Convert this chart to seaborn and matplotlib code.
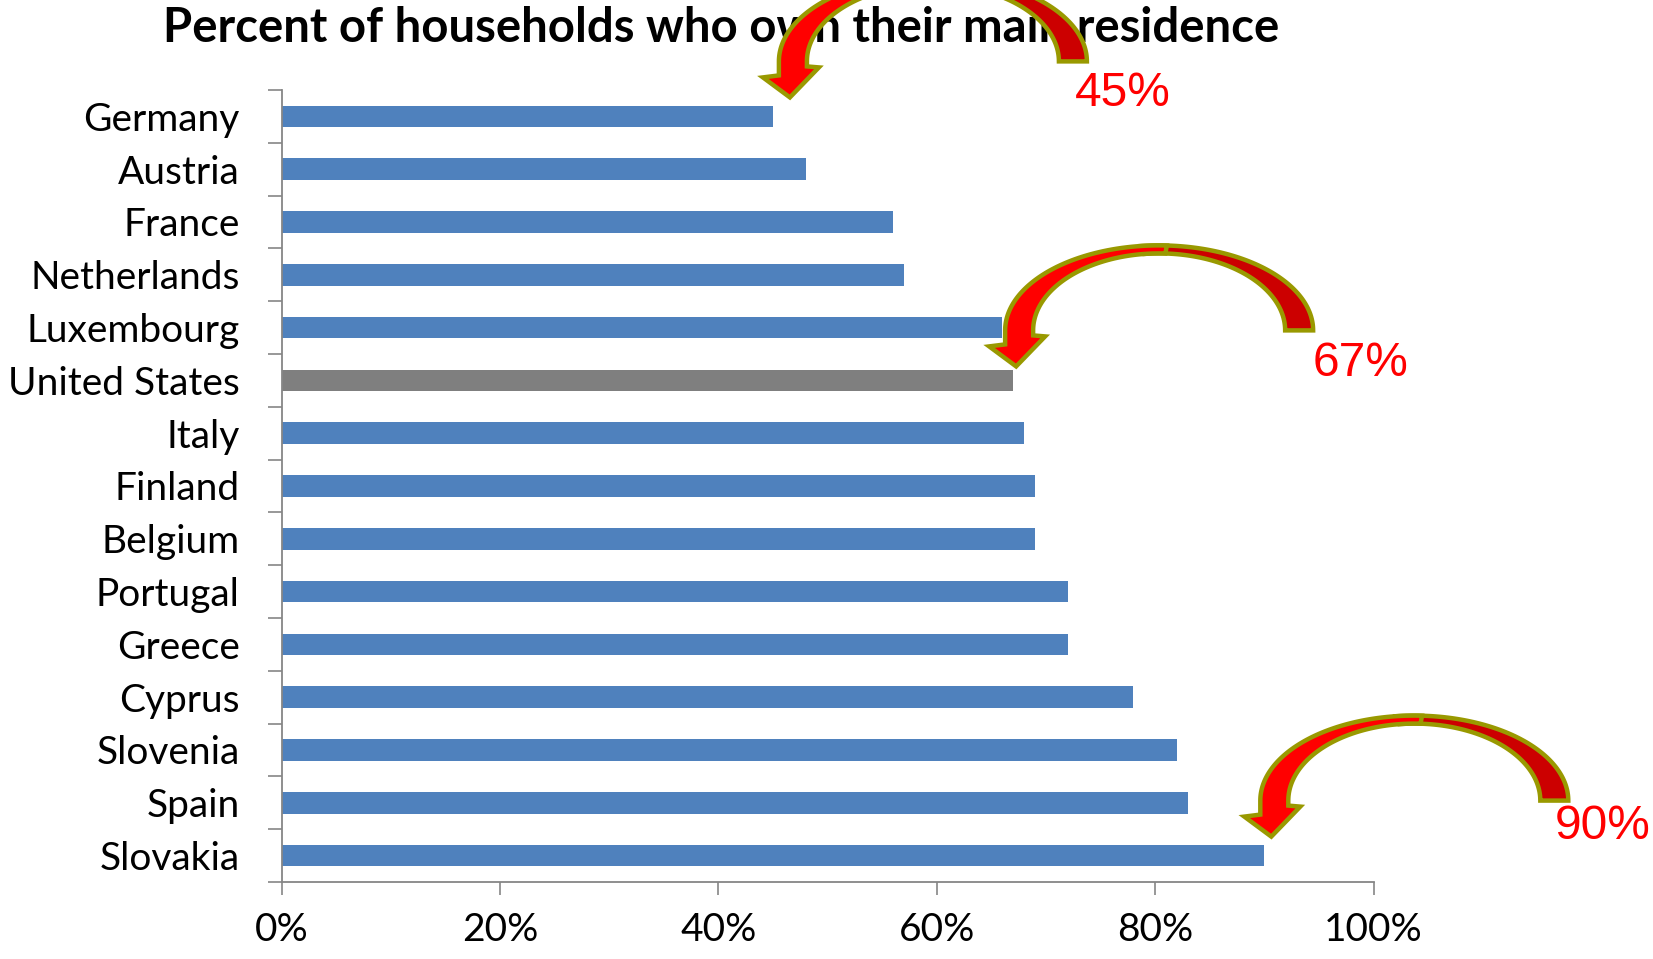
import numpy as np
import pandas as pd
import matplotlib
matplotlib.use("Agg")
import matplotlib.pyplot as plt
import seaborn as sns
from matplotlib.patches import Polygon

# ---------------- data ----------------
countries = ["Germany", "Austria", "France", "Netherlands", "Luxembourg",
             "United States", "Italy", "Finland", "Belgium", "Portugal",
             "Greece", "Cyprus", "Slovenia", "Spain", "Slovakia"]
ownership = [45, 48, 56, 57, 66, 67, 68, 69, 69, 72, 72, 78, 82, 83, 90]
highlight = "United States"
callout_countries = ["Germany", "United States", "Slovakia"]
callout_labels = ["45%", "67%", "90%"]
xticks = [0, 20, 40, 60, 80, 100]
title = "Percent of households who own their main residence"

# ---------------- styling / layout ----------------
W, H = 1653, 959
sns.set_theme(style="white")
plt.rcParams['font.family'] = ['Lato', 'DejaVu Sans']

fig = plt.figure(figsize=(W / 100, H / 100), dpi=100)
ax = fig.add_axes([281.5 / W, 77 / H, 1092 / W, 792 / H])

df = pd.DataFrame({"country": countries, "pct": ownership})
palette = {c: ("#7F7F7F" if c == highlight else "#4F81BD") for c in countries}
sns.barplot(data=df, x="pct", y="country", hue="country", palette=palette,
            orient="h", width=0.41, legend=False, ax=ax, saturation=1,
            linewidth=0)

ax.set_xlim(0, 100)
ax.set_ylim(len(countries) - 0.5, -0.5)
ax.set_xlabel("")
ax.set_ylabel("")
grey = "#868686"
ax.set_xticks(xticks)
ax.set_xticklabels([f"{t}%" for t in xticks], fontsize=28)
ax.set_yticks(range(len(countries)))
ax.set_yticklabels(countries, fontsize=28)
ax.set_yticks(np.arange(len(countries) + 1) - 0.5, minor=True)
ax.tick_params(axis="y", which="major", length=0, pad=30, colors="black")
ax.tick_params(axis="y", which="minor", length=10, width=1.2, color=grey,
               direction="out", left=True)
ax.tick_params(axis="x", which="major", length=9.5, width=1.2, color=grey,
               direction="out", bottom=True, pad=12, labelcolor="black")
for s in ["top", "right"]:
    ax.spines[s].set_visible(False)
for s in ["left", "bottom"]:
    ax.spines[s].set_color(grey)
    ax.spines[s].set_linewidth(1.3)
ax.grid(False)

# ---------------- overlay (pixel coords, y down) ----------------
ov = fig.add_axes([0, 0, 1, 1], zorder=5)
ov.set_xlim(0, W)
ov.set_ylim(H, 0)
ov.axis("off")
ov.patch.set_alpha(0)

ov.text(721, 28, title, ha="center", va="center", fontsize=34,
        fontweight="bold", color="black", zorder=1)


def to_overlay(x, y):
    d = ax.transData.transform((x, y))
    return ov.transData.inverted().transform(d)


def curved_arrow(tx, ty):
    cx, cy = tx + 143, ty - 36
    ao, bo, ai, bi = 154, 85, 126, 77
    edge = "#999900"
    # back (right) part
    t = np.linspace(0, np.pi / 2 + 0.12, 80)
    outer = np.c_[cx + ao * np.cos(t), cy - bo * np.sin(t)]
    inner = np.c_[cx + ai * np.cos(t), cy - bi * np.sin(t)]
    back = np.vstack([outer, inner[::-1]])
    ov.add_patch(Polygon(back, closed=True, fc="#CC0000", ec=edge, lw=3.2,
                         joinstyle="miter", zorder=6))
    # front (left) part + head
    t = np.linspace(np.pi / 2 - 0.05, np.pi, 80)
    outer = np.c_[cx + ao * np.cos(t), cy - bo * np.sin(t)]
    inner = np.c_[cx + ai * np.cos(t), cy - bi * np.sin(t)]
    head = np.array([
        [tx - 11, ty - 22],
        [tx - 27, ty - 20],
        [tx, ty],
        [tx + 29, ty - 30],
        [tx + 17, ty - 31],
    ])
    front = np.vstack([outer, head, inner[::-1]])
    ov.add_patch(Polygon(front, closed=True, fc="#FF0000", ec=edge, lw=3.2,
                         joinstyle="miter", zorder=7))


tip_offsets = [(17, -19), (3, -14), (7, -19)]
label_offsets = [(333, -4), (344, -3), (331, -10)]
for c, lab, (ox, oy), (lx, ly) in zip(callout_countries, callout_labels,
                                       tip_offsets, label_offsets):
    i = countries.index(c)
    bx, by = to_overlay(ownership[i], i)
    tx, ty = bx + ox, by + oy
    curved_arrow(tx, ty)
    ov.text(tx + lx, ty + ly, lab, ha="center", va="center", fontsize=34.5,
            color="#FF0000", family=["Liberation Sans", "DejaVu Sans"],
            zorder=8)

fig.savefig("out.png", dpi=100)
